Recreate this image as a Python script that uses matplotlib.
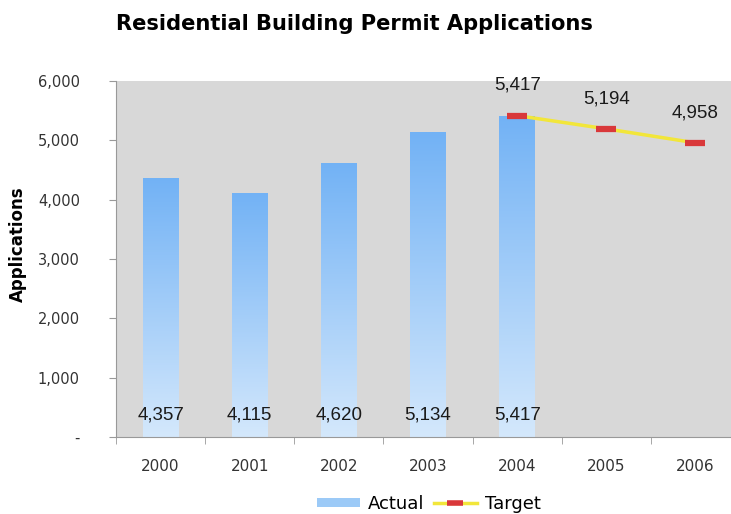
import numpy as np
import matplotlib.pyplot as plt
from matplotlib.colors import LinearSegmentedColormap
from matplotlib.patches import Patch
from matplotlib.lines import Line2D

years = ['2000', '2001', '2002', '2003', '2004', '2005', '2006']
actual = [4357, 4115, 4620, 5134, 5417]
target_years = [4, 5, 6]
target = [5417, 5194, 4958]

fig = plt.figure(figsize=(7.31, 5.14), dpi=100)
ax = fig.add_axes([116 / 731, 1 - 437 / 514, 624 / 731, 356 / 514])
ax.set_facecolor('#d8d8d8')

# gradient fill for the bars
cmap = LinearSegmentedColormap.from_list('bar', ['#d4e8fc', '#72b2f5'])
grad = np.linspace(0, 1, 256).reshape(-1, 1)
bw = 0.4
for i, v in enumerate(actual):
    bar = ax.bar(i, v, width=bw, color='none', edgecolor='none', zorder=2)[0]
    im = ax.imshow(grad, cmap=cmap, aspect='auto', origin='lower',
                   extent=[i - bw / 2, i + bw / 2, 0, v], zorder=2)
    im.set_clip_path(bar)
    ax.text(i, 370, f'{v:,}', ha='center', va='center', fontsize=13.5,
            color='#1a1a1a', family='Liberation Sans', zorder=4)

ax.plot(target_years, target, color='#f2e63a', lw=2.5, zorder=3)
ax.plot(target_years, target, ls='none', marker='_', ms=15, mew=4.5,
        color='#d9383a', zorder=4)
for x, v in zip(target_years, target):
    ax.text(x, v + 510, f'{v:,}', ha='center', va='center', fontsize=13.5,
            color='#1a1a1a', family='Liberation Sans', zorder=4)

ax.set_xlim(-0.5, 6.5)
ax.set_ylim(0, 6000)
ax.set_xticks(range(7))
ax.set_xticklabels(years, fontsize=11, color='#333333')
ax.set_xticks(np.arange(-0.5, 7, 1), minor=True)
ax.tick_params(axis='x', which='major', length=0, pad=16)
ax.tick_params(axis='x', which='minor', length=5, color='#999999', direction='out')
ax.set_yticks(range(0, 6001, 1000))
ax.set_yticklabels(['-'] + [f'{v:,}' for v in range(1000, 6001, 1000)],
                   fontsize=10.5, color='#333333')
ax.tick_params(axis='y', length=5, color='#999999', pad=21)
for s in ['top', 'right']:
    ax.spines[s].set_visible(False)
for s in ['left', 'bottom']:
    ax.spines[s].set_color('#999999')

fig.text(354 / 731, 1 - 24 / 514, 'Residential Building Permit Applications',
         ha='center', va='center', fontsize=15.1, fontweight='bold')
fig.text(18 / 731, 1 - 244 / 514, 'Applications', rotation=90, ha='center',
         va='center', fontsize=12, fontweight='bold')

handles = [Patch(facecolor='#9ccaf7', edgecolor='none'),
           Line2D([], [], color='#f2e63a', lw=2.5, marker='_', ms=11, mew=4,
                  mec='#d9383a')]
fig.legend(handles, ['Actual', 'Target'], loc='center', ncol=2,
           bbox_to_anchor=(429 / 731, 1 - 504 / 514), frameon=False,
           fontsize=13, handlelength=2.4, handleheight=0.4, columnspacing=0.5,
           handletextpad=0.45)

fig.savefig('out.png', dpi=100)
